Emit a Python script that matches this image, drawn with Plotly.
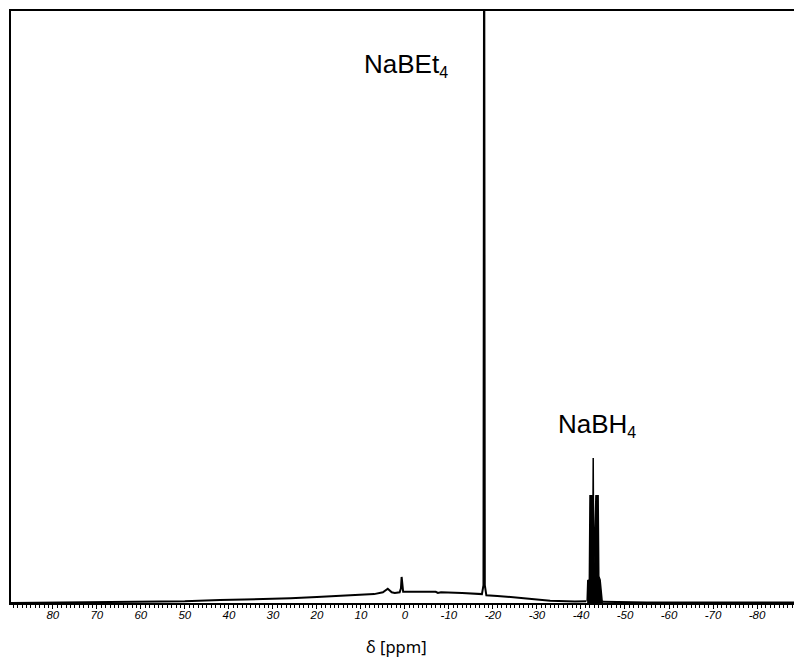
import plotly.graph_objects as go

# 11B NMR spectrum: chemical shift (ppm) and relative intensity
shift_ppm = [89.5, 75.0, 61.0, 55.0, 50.0, 42.0, 35.0, 26.0, 20.0, 12.0, 7.0, 5.0,
             3.9, 3.0, 2.3, 1.2, 0.9, 0.75, 0.6, 0.4, -4.0, -7.0, -7.5, -8.2, -13.0,
             -17.5, -17.85, -18.0, -18.15, -18.5, -21.0, -27.0, -33.0, -38.6, -41.2]
intensity = [0.0, 0.001, 0.002, 0.003, 0.003, 0.005, 0.006, 0.008, 0.010, 0.013, 0.015, 0.018,
             0.024, 0.018, 0.017, 0.018, 0.025, 0.044, 0.025, 0.019, 0.019, 0.019, 0.017, 0.018, 0.017,
             0.015, 0.030, 1.300, 0.030, 0.013, 0.012, 0.0085, 0.004, 0.0025, 0.003]

# BH4- quintet region
quintet_ppm = [-41.4, -41.55, -41.9, -42.05, -42.5, -42.65, -42.78, -42.9, -43.4,
               -43.9, -44.05, -44.35, -44.8, -45.0]
quintet_int = [0.003, 0.038, 0.039, 0.181, 0.181, 0.05, 0.245, 0.05, 0.181,
               0.181, 0.045, 0.039, 0.004, 0.002]

tail_ppm = [-45.0, -55.0, -70.0, -88.4]
tail_int = [0.002, 0.001, 0.001, 0.001]

tick_vals = [80, 70, 60, 50, 40, 30, 20, 10, 0, -10, -20, -30, -40, -50, -60, -70, -80]
tick_text = ["80", "70", "60", "50", "40", "30", "20", "10", "0", "-10", "-20", "-30",
             "-40", "-50", "-60", "-70", "-80"]

peak_labels = ["NaBEt<sub><span style='font-size:16px'>4</span></sub>",
               "NaBH<sub><span style='font-size:16px'>4</span></sub>"]
peak_label_ppm = [-0.3, -43.6]
peak_label_int = [0.909, 0.300]

fig = go.Figure()
fig.add_trace(go.Scatter(x=shift_ppm, y=intensity, mode="lines",
                         line=dict(color="black", width=2), hoverinfo="skip"))
fig.add_trace(go.Scatter(x=quintet_ppm, y=quintet_int, mode="lines", fill="tozeroy",
                         fillcolor="black", line=dict(color="black", width=1.5),
                         hoverinfo="skip"))
fig.add_trace(go.Scatter(x=tail_ppm, y=tail_int, mode="lines",
                         line=dict(color="black", width=2), hoverinfo="skip"))

for txt, px, py in zip(peak_labels, peak_label_ppm, peak_label_int):
    fig.add_annotation(x=px, y=py, xref="x", yref="y", text=txt, showarrow=False,
                       font=dict(family="Liberation Sans, Arial", size=26, color="black"),
                       xanchor="center", yanchor="middle")

fig.add_annotation(x=(396 - 11) / 783, y=-43 / 592, xref="paper", yref="paper",
                   text="δ [ppm]", showarrow=False, xanchor="center", yanchor="middle",
                   font=dict(family="Noto Sans", size=16.5, color="black"))

fig.update_layout(
    width=794, height=661,
    margin=dict(l=11, r=0, t=11, b=58),
    paper_bgcolor="white", plot_bgcolor="white",
    showlegend=False,
    xaxis=dict(range=[89.5, -88.4], showgrid=False, zeroline=False,
               showline=True, linecolor="black", linewidth=2, mirror=True,
               ticks="outside", ticklen=4, tickwidth=1.2, tickcolor="black",
               tickvals=tick_vals, ticktext=tick_text,
               ticklabelstandoff=-4,
               tickfont=dict(family="Liberation Sans, Arial", size=11.5, color="black",
                             style="italic"),
               minor=dict(dtick=1, tick0=0, ticks="outside", ticklen=3,
                          tickwidth=1, tickcolor="black")),
    yaxis=dict(range=[0, 1], showgrid=False, zeroline=False, showline=True,
               linecolor="black", linewidth=2, ticks="", showticklabels=False),
)

fig.write_html("out.html")
